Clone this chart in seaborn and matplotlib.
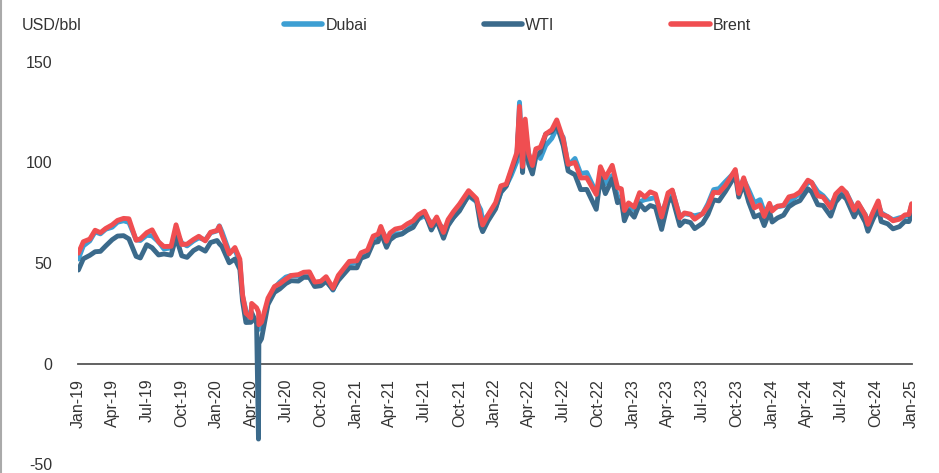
import matplotlib
matplotlib.use("Agg")
import matplotlib.pyplot as plt
import matplotlib.dates as mdates
from matplotlib.lines import Line2D
import seaborn as sns
import pandas as pd

# ---------------- data (USD/bbl) ----------------
dates = [
    # 2019
    "2019-01-02", "2019-01-15", "2019-02-01", "2019-02-15", "2019-03-01", "2019-03-15",
    "2019-04-01", "2019-04-15", "2019-05-01", "2019-05-15", "2019-06-03", "2019-06-14",
    "2019-07-01", "2019-07-15", "2019-08-01", "2019-08-15", "2019-09-03", "2019-09-16",
    "2019-10-01", "2019-10-15", "2019-11-01", "2019-11-15", "2019-12-02", "2019-12-16",
    # 2020
    "2020-01-02", "2020-01-08", "2020-01-15", "2020-02-03", "2020-02-18", "2020-03-02",
    "2020-03-09", "2020-03-18", "2020-03-31", "2020-04-02", "2020-04-15", "2020-04-20",
    "2020-04-21", "2020-04-28", "2020-05-15", "2020-06-01", "2020-06-15", "2020-07-01",
    "2020-07-15", "2020-08-03", "2020-08-17", "2020-09-01", "2020-09-15", "2020-10-01",
    "2020-10-15", "2020-11-02", "2020-11-16", "2020-12-01", "2020-12-15",
    # 2021
    "2021-01-04", "2021-01-15", "2021-02-01", "2021-02-16", "2021-03-01", "2021-03-08",
    "2021-03-23", "2021-04-01", "2021-04-15", "2021-05-03", "2021-05-17", "2021-06-01",
    "2021-06-15", "2021-07-01", "2021-07-19", "2021-08-02", "2021-08-20", "2021-09-01",
    "2021-09-15", "2021-10-01", "2021-10-25", "2021-11-15", "2021-11-26", "2021-12-01",
    "2021-12-15",
    # 2022
    "2022-01-04", "2022-01-18", "2022-02-01", "2022-02-14", "2022-03-01", "2022-03-08",
    "2022-03-16", "2022-03-23", "2022-04-01", "2022-04-11", "2022-04-20", "2022-05-02",
    "2022-05-16", "2022-06-01", "2022-06-14", "2022-07-01", "2022-07-14", "2022-08-01",
    "2022-08-16", "2022-09-01", "2022-09-26", "2022-10-07", "2022-10-20", "2022-11-07",
    "2022-11-21", "2022-12-01", "2022-12-09", "2022-12-20",
    # 2023
    "2023-01-04", "2023-01-18", "2023-02-01", "2023-02-15", "2023-03-01", "2023-03-17",
    "2023-04-03", "2023-04-14", "2023-05-04", "2023-05-16", "2023-06-01", "2023-06-12",
    "2023-07-03", "2023-07-17", "2023-08-01", "2023-08-15", "2023-09-01", "2023-09-27",
    "2023-10-06", "2023-10-19", "2023-11-01", "2023-11-16", "2023-12-01", "2023-12-12",
    "2023-12-26",
    # 2024 / 2025
    "2024-01-02", "2024-01-16", "2024-02-01", "2024-02-15", "2024-03-01", "2024-03-15",
    "2024-04-05", "2024-04-15", "2024-05-01", "2024-05-15", "2024-06-04", "2024-06-17",
    "2024-07-03", "2024-07-15", "2024-08-05", "2024-08-15", "2024-09-03", "2024-09-10",
    "2024-09-23", "2024-10-07", "2024-10-15", "2024-11-01", "2024-11-15", "2024-12-02",
    "2024-12-16", "2024-12-27", "2025-01-03",
]

brent = [
    54.9, 60.6, 61.9, 66.3, 65.1, 67.2, 69.0, 71.2, 72.2, 72.0, 61.3, 62.0,
    65.1, 66.5, 60.5, 58.2, 58.3, 69.0, 59.2, 59.4, 61.7, 63.3, 61.0, 65.3,
    66.2, 68.3, 64.0, 54.5, 57.7, 51.9, 34.4, 25.0, 22.7, 29.9, 27.7, 25.6,
    19.3, 20.5, 32.5, 38.3, 39.7, 42.0, 43.8, 44.2, 45.4, 45.6, 40.5, 40.9,
    43.2, 37.5, 43.8, 47.4, 50.8,
    51.1, 55.1, 56.4, 63.4, 64.4, 68.2, 60.8, 64.9, 66.9, 67.6, 69.5, 71.0,
    74.0, 75.8, 68.6, 72.9, 65.2, 71.6, 75.5, 79.3, 86.0, 82.0, 72.7, 68.9,
    73.9,
    80.0, 88.4, 89.2, 96.5, 105.0, 127.9, 98.0, 121.6, 104.4, 98.5, 106.8, 107.6,
    114.2, 116.3, 121.2, 111.6, 99.1, 100.0, 92.3, 92.4, 84.1, 97.9, 92.4, 98.6,
    87.5, 86.9, 76.1, 79.9,
    77.8, 85.0, 82.8, 85.4, 84.3, 72.9, 84.9, 86.3, 72.5, 74.9, 74.3, 71.8,
    74.6, 78.5, 85.2, 84.9, 88.6, 96.5, 84.6, 92.4, 84.6, 77.4, 78.9, 73.2,
    79.7,
    75.9, 78.3, 78.7, 82.9, 83.6, 85.3, 91.2, 90.1, 83.4, 82.8, 77.5, 84.3,
    87.3, 84.9, 76.3, 80.0, 73.8, 69.2, 75.2, 80.9, 74.3, 73.1, 71.0, 71.8,
    73.9, 74.2, 79.5,
]

wti = [
    46.5, 52.1, 53.8, 55.6, 55.8, 58.5, 61.6, 63.4, 63.6, 62.0, 53.3, 52.5,
    59.1, 57.6, 54.0, 54.5, 53.9, 62.9, 53.6, 52.8, 56.2, 57.7, 55.9, 60.2,
    61.2, 59.6, 58.2, 50.1, 52.0, 46.8, 31.1, 20.4, 20.5, 25.3, 19.9, -37.6,
    10.0, 12.3, 29.4, 35.4, 37.1, 39.8, 41.2, 41.0, 42.9, 42.8, 38.3, 38.7,
    40.9, 36.8, 41.3, 44.6, 47.6,
    47.6, 52.4, 53.6, 60.1, 60.6, 65.1, 57.8, 61.5, 63.5, 64.5, 66.3, 67.7,
    72.1, 75.2, 66.4, 71.3, 62.3, 68.6, 72.6, 75.9, 83.8, 80.9, 68.2, 65.6,
    70.9,
    76.9, 85.4, 88.2, 95.5, 103.4, 123.7, 95.0, 114.9, 99.3, 94.3, 102.8, 105.2,
    114.2, 115.3, 118.9, 108.4, 95.8, 93.9, 86.5, 86.6, 76.7, 92.6, 84.5, 91.8,
    80.0, 81.2, 71.0, 76.1,
    72.8, 79.5, 76.4, 78.6, 77.7, 66.7, 80.4, 82.5, 68.6, 70.9, 70.1, 67.1,
    69.8, 74.2, 81.4, 80.9, 85.6, 93.7, 82.8, 89.4, 80.4, 72.9, 74.1, 68.6,
    75.6,
    70.4, 72.4, 73.8, 78.0, 79.9, 81.0, 86.9, 85.4, 79.0, 78.6, 73.3, 80.3,
    83.9, 81.9, 72.9, 77.0, 70.3, 65.8, 71.6, 77.1, 70.6, 69.5, 67.0, 68.1,
    70.7, 70.6, 74.0,
]

dubai = [
    52.0, 58.5, 61.0, 65.5, 64.5, 66.8, 67.8, 70.3, 71.0, 70.2, 61.5, 61.2,
    63.8, 63.5, 60.5, 57.0, 57.5, 65.5, 60.0, 58.5, 61.0, 62.5, 61.5, 65.0,
    66.0, 68.5, 65.5, 55.5, 56.5, 50.5, 33.5, 26.5, 21.5, 24.0, 20.5, 19.5,
    17.0, 19.5, 30.0, 37.5, 40.5, 43.0, 43.8, 43.5, 44.5, 44.5, 40.0, 40.5,
    41.8, 36.5, 42.5, 46.0, 49.5,
    50.4, 54.5, 55.3, 61.6, 62.7, 67.1, 62.0, 62.5, 64.6, 64.5, 66.6, 69.0,
    71.9, 73.5, 70.0, 70.4, 67.2, 69.3, 72.6, 76.8, 83.4, 80.5, 76.5, 71.0,
    73.6,
    77.5, 85.0, 88.5, 93.5, 100.5, 130.0, 100.0, 115.5, 104.5, 97.5, 104.5, 102.0,
    108.5, 112.0, 117.0, 112.5, 98.5, 102.0, 94.5, 95.0, 85.0, 93.0, 89.5, 93.5,
    83.0, 82.5, 74.5, 79.0,
    76.5, 80.5, 81.5, 82.0, 82.5, 74.5, 83.0, 86.0, 73.0, 74.5, 74.0, 73.5,
    74.5, 79.5, 86.5, 87.0, 90.5, 95.5, 87.0, 91.5, 86.5, 80.0, 81.5, 75.5,
    78.0,
    77.0, 78.0, 78.5, 80.5, 82.5, 84.5, 90.0, 90.0, 85.5, 83.5, 79.0, 83.0,
    86.5, 85.0, 77.0, 79.5, 74.0, 70.0, 74.5, 79.5, 75.0, 73.0, 71.5, 72.5,
    73.0, 73.8, 79.0,
]

series_names = ["Dubai", "WTI", "Brent"]
series_colors = ["#3d9fd3", "#3b6a8b", "#f04e51"]
y_ticks = [-50, 0, 50, 100, 150]
y_unit = "USD/bbl"

assert len(dates) == len(brent) == len(wti) == len(dubai)

# ---------------- build long table ----------------
df = pd.concat([
    pd.DataFrame({"date": pd.to_datetime(dates), "price": vals, "series": name})
    for name, vals in zip(series_names, [dubai, wti, brent])
], ignore_index=True)

# ---------------- plot ----------------
sns.set_theme(style="white")
plt.rcParams["font.family"] = ["Liberation Sans", "DejaVu Sans"]
plt.rcParams["axes.unicode_minus"] = False
text_color = "#333333"

fig = plt.figure(figsize=(9.39, 4.73), dpi=100)
ax = fig.add_axes([78 / 939, 1 - 464 / 473, (912 - 78) / 939, (464 - 62) / 473])

sns.lineplot(data=df, x="date", y="price", hue="series", hue_order=series_names,
             palette=dict(zip(series_names, series_colors)), linewidth=3.5,
             ax=ax, legend=False, estimator=None, sort=True)

ax.set_ylim(-50, 150)
ax.set_yticks(y_ticks)
ax.set_xlim(pd.Timestamp("2019-01-01"), pd.Timestamp("2025-01-04"))
ax.xaxis.set_major_locator(mdates.MonthLocator(bymonth=[1, 4, 7, 10]))
ax.xaxis.set_major_formatter(mdates.DateFormatter("%b-%y"))

for s in ["top", "right", "left"]:
    ax.spines[s].set_visible(False)
ax.spines["bottom"].set_position(("data", 0))
ax.spines["bottom"].set_color("#555555")
ax.spines["bottom"].set_linewidth(1.3)
ax.spines["bottom"].set_zorder(0.5)

ax.tick_params(axis="x", length=0, pad=11, labelsize=11.5, colors=text_color,
               labelrotation=90)
ax.tick_params(axis="y", length=0, pad=18.5, labelsize=11.5, colors=text_color)
for lab in ax.get_xticklabels():
    lab.set_ha("center")
    lab.set_va("top")
ax.set_xlabel("")
ax.set_ylabel("")
ax.grid(False)

fig.text(22 / 939, 1 - 25 / 473, y_unit, fontsize=11.5, color=text_color,
         ha="left", va="center")

handles = [Line2D([0], [0], color=c, lw=4.0, solid_capstyle="round")
           for c in series_colors]
fig.legend(handles, series_names, loc="center left",
           bbox_to_anchor=(284 / 939, 1 - 25 / 473), ncol=3, frameon=False,
           fontsize=11.5, handlelength=2.4, handletextpad=0.2,
           columnspacing=7.3, borderpad=0, borderaxespad=0,
           labelcolor=text_color)

# light grey border on the left edge, as in the reference
fig.add_artist(Line2D([0.0015, 0.0015], [0, 1], transform=fig.transFigure,
                      color="#aaaaaa", lw=1.5))

fig.savefig("out.png", dpi=100)
